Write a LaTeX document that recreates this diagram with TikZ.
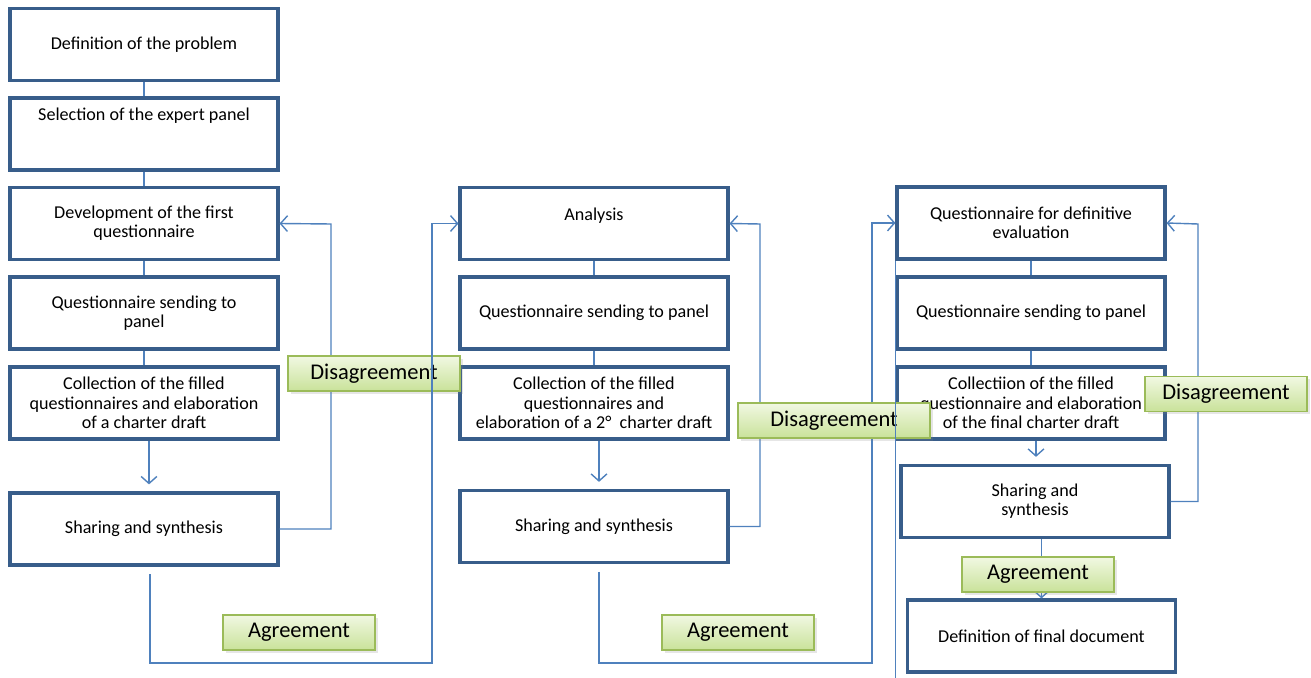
\documentclass[tikz,border=0pt]{standalone}
\usepackage{fontspec}
\setmainfont{Carlito}
\usepackage{tikz}
\usetikzlibrary{arrows.meta,positioning,shadows,calc}

\definecolor{boxblue}{HTML}{385D8A}
\definecolor{linkblue}{HTML}{4F81BD}
\definecolor{greentop}{HTML}{F1F8E2}
\definecolor{greenbot}{HTML}{C9E29A}
\definecolor{greenedge}{HTML}{9BBB59}

\begin{document}
\begin{tikzpicture}[x=0.02cm,y=-0.02cm,
    stage/.style={draw=boxblue, line width=1.8pt, fill=white, minimum width=5.36cm, minimum height=1.44cm,
        align=center, inner sep=2pt, font=\fontsize{10.3}{11}\selectfont},
    verdict/.style={draw=greenedge, line width=0.9pt, top color=greentop, bottom color=greenbot,
        minimum width=3.04cm, minimum height=0.7cm, font=\fontsize{12.8}{14}\selectfont,
        drop shadow={shadow xshift=1.5pt, shadow yshift=-1.5pt, opacity=0.2}},
    link/.style={draw=linkblue, line width=0.8pt},
    flow/.style={link, -{Straight Barb[length=4pt,width=9pt]}}]
    \useasboundingbox (0,0) rectangle (1311,678);

    % First round
    \node[stage] (prob) at (144,44.5) {Definition of the problem};
    \node[stage] (panel) at (144,134) {Selection of the expert panel\\~\\~};
    \node[stage] (dev) at (144,223.5) {Development of the first\\questionnaire};
    \node[stage] (send1) at (144,313) {Questionnaire sending to\\panel};
    \node[stage] (coll1) at (144,403) {Collection of the filled\\questionnaires and elaboration\\of a charter draft};
    \node[stage] (share1) at (144,529) {Sharing and synthesis};

    % Second round
    \node[stage] (ana) at (594,223.5) {Analysis\\~};
    \node[stage] (send2) at (594,313) {Questionnaire sending to panel};
    \node[stage] (coll2) at (594,403) {Collection of the filled\\questionnaires and\\elaboration of a 2°\ \ charter draft};
    \node[stage] (share2) at (594,526.5) {Sharing and synthesis};

    % Final round
    \node[stage] (defq) at (1031,223) {Questionnaire for definitive\\evaluation};
    \node[stage] (send3) at (1031,313) {Questionnaire sending to panel};
    \node[stage] (coll3) at (1031,403) {Collectiion of the filled\\questionnaire and elaboration\\of the final charter draft};
    \node[stage] (share3) at (1035,501.5) {Sharing and\\synthesis};
    \node[stage] (final) at (1041.5,636) {Definition of final document};

    % Links inside the columns
    \foreach \a/\b in {prob/panel, panel/dev, dev/send1, send1/coll1, ana/send2, send2/coll2, defq/send3, send3/coll3}
        \draw[link] (\a) -- (\b);
    \foreach \a/\b in {coll1/share1, coll2/share2, coll3/share3}
        \draw[flow, shorten >=4pt] ([xshift=0.1cm]\a.south) -- ([xshift=0.1cm]\a.south |- \b.north);
    \draw[flow] (share3.south -| final.north) -- (final.north);

    % Disagreement loops
    \coordinate (back1) at (331,224);
    \coordinate (back2) at (760,224);
    \coordinate (back3) at (1198,224);
    \draw[flow] (share1.east) -| (back1) -- (dev.east);
    \draw[flow] (share2.east) -| (back2) -- (ana.east);
    \draw[flow] (share3.east) -| (back3) -- (defq.east);

    % Agreement to the next round
    \coordinate (fwd1) at (432,663);
    \coordinate (fwd2) at (872,663);
    \draw[flow, shorten <=4.5pt] ([xshift=0.1cm]share2.south) |- (fwd2) -- (fwd2 |- defq.west) -- (defq.west);

    % Labels
    \node[verdict, minimum width=3.44cm] (dis1) at (374,373.5) {Disagreement};
    \node[verdict] (agr1) at (299,632.5) {Agreement};
    \node[verdict, minimum width=3.84cm] (dis2) at (834,420.5) {Disagreement};
    \node[verdict] (agr2) at (738,632.5) {Agreement};
    \node[verdict, minimum width=3.24cm] (dis3) at (1226,394) {Disagreement};
    \node[verdict] (agr3) at (1038,574.5) {Agreement};

    \draw[flow, shorten <=4.5pt] ([xshift=0.12cm]share1.south) |- (fwd1) -- (fwd1 |- ana.west) -- (ana.west);
    \coordinate (rim) at (895,678);
    \draw[link] (defq.south west) -- (defq.south west |- rim);
\end{tikzpicture}
\end{document}
